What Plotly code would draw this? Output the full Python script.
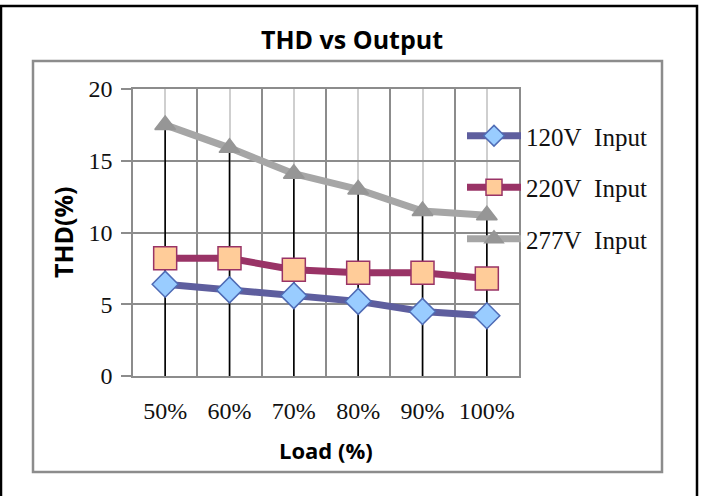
import plotly.graph_objects as go

loads = ["50%", "60%", "70%", "80%", "90%", "100%"]
thd_120v = [6.4, 6.0, 5.6, 5.2, 4.5, 4.2]
thd_220v = [8.2, 8.2, 7.4, 7.2, 7.2, 6.8]
thd_277v = [17.5, 15.9, 14.1, 13.0, 11.5, 11.2]
series_names = ["120V\u00a0\u00a0Input", "220V\u00a0\u00a0Input", "277V\u00a0\u00a0Input"]
y_ticks = [0, 5, 10, 15, 20]

W, H = 704, 496
PL, PR, PT, PB = 133, 519, 89, 376


def px(x):
    return (x - PL) / (PR - PL)


def py(y):
    return (PB - y) / (PB - PT)


idx = list(range(len(loads)))

# drop lines from highest point in each category down to the axis
tops = [max(a, b, c) for a, b, c in zip(thd_120v, thd_220v, thd_277v)]
drop_x, drop_y = [], []
for i, t in zip(idx, tops):
    drop_x += [i, i, None]
    drop_y += [0, t, None]

fig = go.Figure()
fig.add_trace(go.Scatter(x=drop_x, y=drop_y, mode="lines",
                         line=dict(color="black", width=1.6),
                         showlegend=False, hoverinfo="skip"))

styles = [
    dict(line="#5E5E9E", fill="#99CCFF", border="#4F6BB5", symbol="diamond", size=20),
    dict(line="#993366", fill="#FFCC99", border="#993366", symbol="square", size=23),
    dict(line="#A6A6A6", fill="#969696", border="#969696", symbol="triangle-up", size=18),
]
for name, vals, st in zip(series_names, [thd_120v, thd_220v, thd_277v], styles):
    fig.add_trace(go.Scatter(
        x=idx, y=vals, mode="lines+markers", name=name, legendgroup=name,
        line=dict(color=st["line"], width=7),
        marker=dict(symbol=st["symbol"], size=st["size"], color=st["fill"],
                    line=dict(color=st["border"], width=1.5)),
    ))

grid_dark = "#8C8C8C"
grid_light = "#CFCFCF"

fig.update_xaxes(
    range=[-0.5, len(loads) - 0.5], tickvals=idx, ticktext=loads,
    showgrid=True, gridcolor=grid_light, gridwidth=1.5,
    minor=dict(tickvals=[i - 0.5 for i in range(len(loads) + 1)], showgrid=True,
               gridcolor=grid_dark, gridwidth=1.5),
    showline=True, linecolor=grid_dark, linewidth=1.5, mirror=True,
    ticks="", ticklabelstandoff=12, zeroline=False,
    tickfont=dict(family="Liberation Serif", size=24, color="#111111"),
)
fig.update_yaxes(
    range=[0, 20], tickvals=y_ticks,
    showgrid=True, gridcolor=grid_dark, gridwidth=1.5,
    showline=True, linecolor=grid_dark, linewidth=1.5, mirror=True,
    ticks="outside", ticklen=10, tickcolor=grid_dark, tickwidth=1.5,
    ticklabelstandoff=4, zeroline=False,
    tickfont=dict(family="Liberation Serif", size=24, color="#111111"),
)

shapes = [
    # outer black frame
    dict(type="rect", xref="paper", yref="paper",
         x0=px(1), x1=px(697), y0=py(6), y1=py(520),
         line=dict(color="black", width=2.5), fillcolor="rgba(0,0,0,0)", layer="below"),
    # inner gray chart-area frame
    dict(type="rect", xref="paper", yref="paper",
         x0=px(33), x1=px(662), y0=py(61), y1=py(472),
         line=dict(color="#8C8C8C", width=2.5), fillcolor="rgba(0,0,0,0)", layer="below"),
]

annotations = [
    dict(text="<b>THD(%)</b>", xref="paper", yref="paper", x=px(63), y=py(232),
         textangle=-90, showarrow=False, xanchor="center", yanchor="middle",
         font=dict(family="Open Sans", size=25, color="black")),
    dict(text="<b>Load (%)</b>", xref="paper", yref="paper", x=px(326), y=py(450),
         showarrow=False, xanchor="center", yanchor="middle",
         font=dict(family="Open Sans", size=22, color="black")),
]

fig.update_layout(
    width=W, height=H,
    margin=dict(l=PL, r=W - PR, t=PT, b=H - PB, pad=0),
    paper_bgcolor="white", plot_bgcolor="white",
    title=dict(text="<b>THD vs Output</b>", x=352 / W, xanchor="center",
               y=1 - 40 / H, yanchor="middle", yref="container",
               font=dict(family="Open Sans", size=25, color="black")),
    legend=dict(x=px(462), y=py(113), xanchor="left", yanchor="top",
                bgcolor="rgba(0,0,0,0)", tracegroupgap=16, itemwidth=54,
                font=dict(family="Liberation Serif", size=25, color="#111111")),
    shapes=shapes, annotations=annotations,
)

fig.write_html("out.html", config={"displayModeBar": False},
               post_script="document.body.style.margin='0';document.body.style.overflow='hidden';")
